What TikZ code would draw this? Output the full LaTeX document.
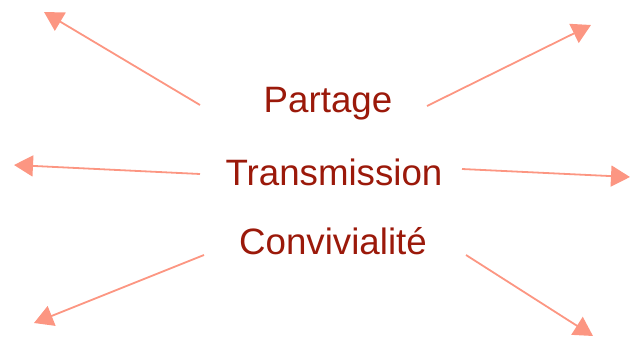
\documentclass[tikz,border=0pt]{standalone}
\usepackage{fontspec}
\setmainfont{Liberation Sans}
\usetikzlibrary{arrows.meta}
\definecolor{motrouge}{RGB}{155,25,10}
\definecolor{saumon}{RGB}{252,150,130}
\begin{document}
\begin{tikzpicture}[x=1pt,y=-1pt,font=\fontsize{36.7}{42}\selectfont,
  mot/.style={text=motrouge,anchor=base,inner sep=0pt},
  fleche/.style={draw=saumon,line width=1.8pt,-{Triangle[length=19pt,width=21pt]}}]
\useasboundingbox (0,0) rectangle (630,337);

\node[mot] (partage) at (328,113) {Partage};
\node[mot] (transmission) at (334,185) {Transmission};
\node[mot] (convivialite) at (333,254) {Convivialité};

% departs des fleches
\coordinate (d1) at (200,105);
\coordinate (d2) at (427,106);
\coordinate (d3) at (200,174);
\coordinate (d4) at (462,169);
\coordinate (d5) at (204,255);
\coordinate (d6) at (466,255);

% pointes
\coordinate (p1) at (44,12);
\coordinate (p2) at (591,25);
\coordinate (p3) at (14,165);
\coordinate (p4) at (630,177);
\coordinate (p5) at (34,323);
\coordinate (p6) at (593,336);

\draw[fleche] (d1) -- (p1);
\draw[fleche] (d2) -- (p2);
\draw[fleche] (d3) -- (p3);
\draw[fleche] (d4) -- (p4);
\draw[fleche] (d5) -- (p5);
\draw[fleche] (d6) -- (p6);
\end{tikzpicture}
\end{document}
